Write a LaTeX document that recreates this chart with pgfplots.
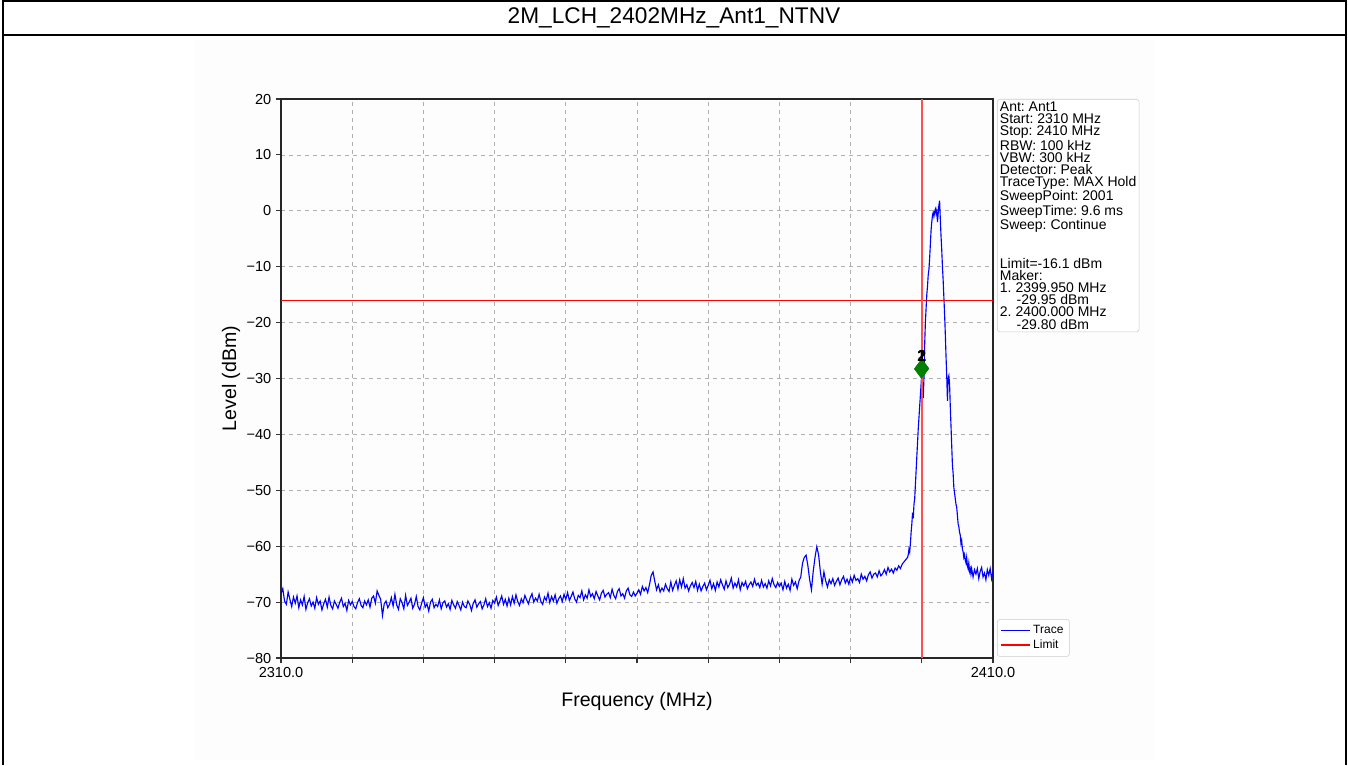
\documentclass[border=0pt]{standalone}
\usepackage{pgfplots}
\pgfplotsset{compat=1.18}
\usepackage{fontspec}
\setmainfont{Liberation Sans}
\frenchspacing
\definecolor{gridgray}{RGB}{176,176,176}
\definecolor{boxgray}{RGB}{204,204,204}
\definecolor{mkgreen}{RGB}{0,128,0}
\definecolor{bgoff}{RGB}{253,253,253}
\definecolor{vred}{RGB}{255,80,80}
\begin{document}
\begin{tikzpicture}[x=0.75pt,y=0.75pt]
\useasboundingbox (0,0) rectangle (1348,765);
\fill[bgoff] (195,5) rectangle (1155,725);
\draw[line width=1.5pt] (2.5,0) -- (2.5,764) -- (1345.5,764) -- (1345.5,0);
\draw[line width=1.5pt] (2.5,730) -- (1345.5,730);
\node[font=\fontsize{17}{20}\selectfont] at (674,747) {2M\_LCH\_2402MHz\_Ant1\_NTNV};
\begin{axis}[
  at={(210.75pt,80.25pt)}, anchor=south west,
  scale only axis, width=534pt, height=419.25pt,
  xmin=2310, xmax=2410, ymin=-80, ymax=20,
  xtick={2310,2320,...,2410},
  xticklabels={2310.0,,,,,,,,,,2410.0},
  ytick={-80,-70,...,20},
  yticklabels={−80,−70,−60,−50,−40,−30,−20,−10,0,10,20},
  tick align=outside, tick pos=left,
  major tick length=3.75pt,
  tick style={line width=0.8pt, black!80},
  grid=major,
  grid style={dashed, gridgray, line width=0.5pt},
  axis line style={line width=0.9pt, black!85},
  ticklabel style={font=\fontsize{10.9}{13}\selectfont},
  xlabel={Frequency (MHz)}, ylabel={Level (dBm)},
  label style={font=\fontsize{14.7}{17}\selectfont},
  xlabel style={yshift=-4pt},
  ylabel style={yshift=-2pt},
  legend style={at={(rel axis cs:1,0)}, anchor=south west, xshift=3pt, yshift=1pt,
    font=\fontsize{9}{10.5}\selectfont, draw=boxgray, rounded corners=2pt,
    row sep=-1pt, inner sep=2.5pt},
  legend image code/.code={\draw[#1, line width=1.1pt] (0cm,0cm) -- (0.75cm,0cm);},
  legend cell align=left,
  clip=false,
]
\addplot[color=blue, line width=0.85pt] coordinates {
(2310,-68.5)(2310.25,-67.6)(2310.5,-69.8)(2310.75,-70.4)(2311,-68.2)(2311.25,-69.5)(2311.5,-70.8)(2311.75,-69.1)
(2312,-70.2)(2312.25,-68.9)(2312.5,-71.0)(2312.75,-69.6)(2313,-70.5)(2313.25,-69.0)(2313.5,-71.3)(2313.75,-70.1)
(2314,-69.4)(2314.25,-70.7)(2314.5,-70.0)(2314.75,-71.1)(2315,-69.2)(2315.25,-70.4)(2315.5,-69.8)(2315.75,-71.4)
(2316,-70.3)(2316.25,-69.5)(2316.5,-70.9)(2316.75,-69.1)(2317,-70.6)(2317.25,-71.2)(2317.5,-69.8)(2317.75,-70.4)
(2318,-71.1)(2318.25,-70.0)(2318.5,-69.3)(2318.75,-70.8)(2319,-70.2)(2319.25,-71.5)(2319.5,-69.7)(2319.75,-70.5)
(2320,-69.9)(2320.25,-70.8)(2320.5,-71.2)(2320.75,-70.1)(2321,-69.4)(2321.25,-70.6)(2321.5,-71.0)(2321.75,-69.8)
(2322,-70.5)(2322.25,-69.6)(2322.5,-70.9)(2322.75,-69.3)(2323,-68.9)(2323.25,-70.2)(2323.5,-68.0)(2323.75,-68.8)
(2324,-69.5)(2324.25,-72.4)(2324.5,-70.3)(2324.75,-69.8)(2325,-71.0)(2325.25,-70.4)(2325.5,-69.2)(2325.75,-70.7)
(2326,-68.6)(2326.25,-70.5)(2326.5,-71.3)(2326.75,-69.4)(2327,-70.1)(2327.25,-71.2)(2327.5,-68.8)(2327.75,-70.6)
(2328,-70.0)(2328.25,-69.3)(2328.5,-71.1)(2328.75,-70.4)(2329,-69.0)(2329.25,-70.8)(2329.5,-71.4)(2329.75,-70.2)
(2330,-69.2)(2330.25,-70.9)(2330.5,-70.3)(2330.75,-71.6)(2331,-70.0)(2331.25,-69.5)(2331.5,-71.0)(2331.75,-70.4)
(2332,-70.8)(2332.25,-69.6)(2332.5,-71.2)(2332.75,-70.1)(2333,-69.8)(2333.25,-70.9)(2333.5,-70.3)(2333.75,-71.3)
(2334,-69.7)(2334.25,-70.5)(2334.5,-71.1)(2334.75,-69.9)(2335,-70.6)(2335.25,-71.4)(2335.5,-70.0)(2335.75,-70.8)
(2336,-71.0)(2336.25,-69.8)(2336.5,-70.4)(2336.75,-71.5)(2337,-70.2)(2337.25,-69.6)(2337.5,-70.9)(2337.75,-70.3)
(2338,-69.9)(2338.25,-71.2)(2338.5,-70.5)(2338.75,-69.4)(2339,-70.8)(2339.25,-70.1)(2339.5,-71.1)(2339.75,-69.7)
(2340,-70.2)(2340.25,-69.1)(2340.5,-70.6)(2340.75,-69.8)(2341,-68.9)(2341.25,-70.4)(2341.5,-69.5)(2341.75,-70.7)
(2342,-69.3)(2342.25,-70.5)(2342.5,-69.0)(2342.75,-70.2)(2343,-68.7)(2343.25,-69.9)(2343.5,-70.6)(2343.75,-69.4)
(2344,-70.1)(2344.25,-68.8)(2344.5,-69.6)(2344.75,-70.3)(2345,-69.2)(2345.25,-68.5)(2345.5,-70.0)(2345.75,-69.3)
(2346,-69.8)(2346.25,-68.6)(2346.5,-69.9)(2346.75,-70.4)(2347,-69.1)(2347.25,-69.7)(2347.5,-68.4)(2347.75,-70.1)
(2348,-69.0)(2348.25,-69.8)(2348.5,-68.7)(2348.75,-70.2)(2349,-69.4)(2349.25,-68.9)(2349.5,-69.9)(2349.75,-68.6)
(2350,-69.5)(2350.25,-68.3)(2350.5,-69.7)(2350.75,-69.0)(2351,-68.2)(2351.25,-69.4)(2351.5,-70.0)(2351.75,-68.8)
(2352,-69.2)(2352.25,-68.0)(2352.5,-69.6)(2352.75,-68.7)(2353,-69.3)(2353.25,-67.8)(2353.5,-69.0)(2353.75,-68.5)
(2354,-69.4)(2354.25,-68.1)(2354.5,-68.9)(2354.75,-69.6)(2355,-68.4)(2355.25,-67.9)(2355.5,-69.1)(2355.75,-68.6)
(2356,-68.3)(2356.25,-69.2)(2356.5,-67.7)(2356.75,-68.8)(2357,-69.4)(2357.25,-68.1)(2357.5,-67.6)(2357.75,-68.9)
(2358,-68.5)(2358.25,-69.3)(2358.5,-68.0)(2358.75,-67.5)(2359,-68.7)(2359.25,-69.0)(2359.5,-68.2)(2359.75,-68.9)
(2360,-68.4)(2360.25,-67.8)(2360.5,-68.6)(2360.75,-67.2)(2361,-68.0)(2361.25,-67.4)(2361.5,-68.3)(2361.75,-66.9)
(2362,-65.2)(2362.25,-64.6)(2362.5,-66.3)(2362.75,-67.8)(2363,-66.9)(2363.25,-68.2)(2363.5,-67.5)(2363.75,-68.0)
(2364,-66.8)(2364.25,-67.6)(2364.5,-68.1)(2364.75,-66.4)(2365,-67.9)(2365.25,-67.0)(2365.5,-66.2)(2365.75,-67.7)
(2366,-66.0)(2366.25,-67.3)(2366.5,-65.8)(2366.75,-67.5)(2367,-66.9)(2367.25,-68.0)(2367.5,-67.1)(2367.75,-66.5)
(2368,-67.4)(2368.25,-66.3)(2368.5,-67.9)(2368.75,-66.8)(2369,-68.0)(2369.25,-67.2)(2369.5,-66.6)(2369.75,-67.8)
(2370,-67.0)(2370.25,-66.1)(2370.5,-67.6)(2370.75,-66.7)(2371,-67.9)(2371.25,-66.4)(2371.5,-67.3)(2371.75,-66.0)
(2372,-66.9)(2372.25,-67.7)(2372.5,-66.2)(2372.75,-67.4)(2373,-66.8)(2373.25,-65.7)(2373.5,-67.5)(2373.75,-66.6)
(2374,-67.3)(2374.25,-66.0)(2374.5,-67.8)(2374.75,-66.5)(2375,-67.1)(2375.25,-66.3)(2375.5,-67.6)(2375.75,-66.9)
(2376,-66.4)(2376.25,-67.2)(2376.5,-65.9)(2376.75,-67.0)(2377,-66.6)(2377.25,-67.4)(2377.5,-66.1)(2377.75,-67.3)
(2378,-66.7)(2378.25,-67.5)(2378.5,-66.2)(2378.75,-67.1)(2379,-65.8)(2379.25,-66.9)(2379.5,-67.4)(2379.75,-66.5)
(2380,-67.2)(2380.25,-66.6)(2380.5,-67.8)(2380.75,-66.3)(2381,-67.5)(2381.25,-66.8)(2381.5,-67.9)(2381.75,-65.9)
(2382,-67.0)(2382.25,-66.4)(2382.5,-67.6)(2382.75,-66.2)(2383,-65.5)(2383.25,-63.0)(2383.5,-62.0)(2383.75,-61.6)
(2384,-63.5)(2384.25,-66.0)(2384.5,-67.8)(2384.75,-64.5)(2385,-62.0)(2385.25,-60.1)(2385.5,-61.5)(2385.75,-64.5)
(2386,-66.8)(2386.25,-64.6)(2386.5,-66.2)(2386.75,-67.3)(2387,-66.0)(2387.25,-66.7)(2387.5,-65.8)(2387.75,-67.0)
(2388,-66.3)(2388.25,-65.7)(2388.5,-66.9)(2388.75,-66.0)(2389,-65.4)(2389.25,-66.6)(2389.5,-65.9)(2389.75,-66.8)
(2390,-65.6)(2390.25,-66.4)(2390.5,-65.2)(2390.75,-66.1)(2391,-65.8)(2391.25,-66.5)(2391.5,-65.0)(2391.75,-65.9)
(2392,-65.4)(2392.25,-66.2)(2392.5,-65.1)(2392.75,-64.6)(2393,-65.7)(2393.25,-65.0)(2393.5,-64.8)(2393.75,-65.5)
(2394,-64.4)(2394.25,-65.3)(2394.5,-64.9)(2394.75,-64.2)(2395,-65.0)(2395.25,-63.8)(2395.5,-64.6)(2395.75,-64.1)
(2396,-64.8)(2396.25,-63.9)(2396.5,-64.3)(2396.75,-63.5)(2397,-64.0)(2397.25,-63.2)(2397.5,-62.8)(2397.75,-62.4)
(2398,-62.0)(2398.1,-61.5)(2398.2,-60.5)(2398.3,-61.0)(2398.4,-59.5)(2398.5,-57.5)(2398.6,-56.0)(2398.7,-54.0)
(2398.8,-55.0)(2398.9,-52.5)(2399,-51.5)(2399.1,-49.0)(2399.2,-46.5)(2399.3,-44.0)(2399.4,-41.5)(2399.5,-39.0)
(2399.6,-37.0)(2399.7,-35.0)(2399.8,-33.0)(2399.9,-31.0)(2399.95,-29.95)(2400,-29.8)(2400.1,-31.5)(2400.2,-33.5)
(2400.3,-30.0)(2400.4,-24.0)(2400.5,-20.0)(2400.6,-17.5)(2400.7,-15.0)(2400.8,-13.5)(2400.9,-11.5)(2401,-10.5)
(2401.1,-8.5)(2401.2,-6.0)(2401.3,-3.5)(2401.4,-2.0)(2401.5,-0.8)(2401.6,-0.3)(2401.7,-1.0)(2401.8,-0.2)
(2401.9,0.3)(2402,-0.5)(2402.1,0.1)(2402.2,-2.0)(2402.3,-0.5)(2402.4,1.0)(2402.5,1.8)(2402.6,-1.5)
(2402.7,-4.5)(2402.8,-7.0)(2402.9,-10.0)(2403,-12.5)(2403.1,-15.5)(2403.2,-18.5)(2403.3,-22.0)(2403.4,-26.0)
(2403.5,-29.5)(2403.6,-34.0)(2403.7,-30.0)(2403.8,-29.5)(2403.9,-31.0)(2404,-35.0)(2404.1,-38.5)(2404.2,-42.0)
(2404.3,-45.5)(2404.4,-47.0)(2404.5,-49.5)(2404.6,-50.5)(2404.7,-51.5)(2404.8,-52.5)(2404.9,-53.0)(2405,-54.5)
(2405.1,-56.0)(2405.2,-56.5)(2405.3,-57.5)(2405.4,-58.0)(2405.5,-59.5)(2405.6,-59.0)(2405.7,-60.5)(2405.8,-61.0)
(2405.9,-62.0)(2406,-61.5)(2406.1,-62.5)(2406.2,-63.0)(2406.3,-62.0)(2406.4,-63.5)(2406.5,-64.0)(2406.6,-63.0)
(2406.7,-64.5)(2406.8,-64.0)(2406.9,-65.0)(2407,-64.0)(2407.2,-65.5)(2407.4,-64.2)(2407.6,-65.0)(2407.8,-64.0)
(2408,-65.8)(2408.2,-64.5)(2408.4,-63.8)(2408.6,-65.5)(2408.8,-64.8)(2409,-66.0)(2409.2,-64.2)(2409.4,-65.2)
(2409.6,-64.0)(2409.8,-65.8)(2410,-64.5)
};
\addlegendentry{Trace}
\addplot[color=red, line width=0.75pt] coordinates {(2310,-16.1)(2410,-16.1)};
\addlegendentry{Limit}
\addplot[color=vred, line width=1.1pt] coordinates {(2400,-80)(2400,20)};
\addplot[only marks, mark=diamond*, mark size=7pt, mark options={fill=mkgreen, draw=mkgreen},
  nodes near coords, point meta=explicit symbolic,
  every node near coord/.append style={font=\fontsize{12}{13}\selectfont\bfseries, black, yshift=2pt}]
  coordinates {(2399.95,-28.3) [1] (2400,-28.2) [2]};
\node[anchor=north west, draw=boxgray, rounded corners=2pt, fill=white, align=left,
  font=\fontsize{10.5}{9.1}\selectfont, inner sep=2pt]
  at (rel axis cs:1,1) [xshift=3pt] {Ant: Ant1\\Start: 2310 MHz\\Stop: 2410 MHz\\RBW: 100 kHz\\VBW: 300 kHz\\Detector: Peak\\TraceType: MAX Hold\\SweepPoint: 2001\\SweepTime: 9.6 ms\\Sweep: Continue\\[18.2pt]Limit=-16.1 dBm\\Maker:\\1. 2399.950 MHz\\\hspace*{1.2em}-29.95 dBm\\2. 2400.000 MHz\\\hspace*{1.2em}-29.80 dBm};
\end{axis}
\end{tikzpicture}
\end{document}
